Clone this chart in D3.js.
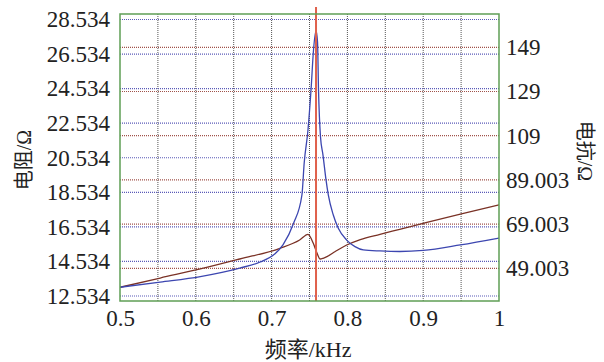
<!DOCTYPE html>
<html>
<head>
<meta charset="utf-8">
<script src="https://cdn.jsdelivr.net/npm/d3@7"></script>
<style>
  html, body { margin: 0; padding: 0; background: #fff; }
  svg { display: block; }
</style>
</head>
<body>
<svg id="chart" width="604" height="362"></svg>
<script>
// Impedance around resonance: resistance (left axis, blue) and reactance (right axis, brown).

const freqR = [0.500, 0.553, 0.606, 0.658, 0.685, 0.704, 0.715, 0.729, 0.740, 0.743, 0.748, 0.752,
  0.7553, 0.7586, 0.7606, 0.7619, 0.7645, 0.7678, 0.7718, 0.7748, 0.7814, 0.788, 0.799, 0.810,
  0.821, 0.843, 0.869, 0.900, 0.949, 1.000];
const resistance = [13.04, 13.34, 13.66, 14.15, 14.50, 14.96, 15.49, 16.74, 18.38, 20.23, 22.14, 24.45,
  26.77, 27.89, 27.23, 24.45, 21.75, 20.69, 19.25, 18.38, 17.22, 16.45, 15.77, 15.39,
  15.20, 15.14, 15.11, 15.17, 15.49, 15.89];

const freqX = [0.500, 0.553, 0.606, 0.658, 0.711, 0.737, 0.748, 0.755, 0.760, 0.764, 0.768, 0.773,
  0.784, 0.799, 0.817, 0.843, 0.869, 0.900, 0.949, 1.000];
const reactance = [40.41, 44.61, 48.69, 53.21, 58.05, 61.81, 64.39, 60.32, 55.79, 53.21, 53.53, 54.25,
  56.60, 59.55, 62.03, 64.39, 66.65, 69.37, 73.57, 77.65];

const resonance = 0.7586;

const xTicks = [0.5, 0.6, 0.7, 0.8, 0.9, 1];
const xGrid = [0.55, 0.6, 0.65, 0.7, 0.75, 0.8, 0.85, 0.9, 0.95];
const leftTicks = [12.534, 14.534, 16.534, 18.534, 20.534, 22.534, 24.534, 26.534, 28.534];
const rightTicks = [49.003, 69.003, 89.003, 109.003, 129.003, 149.003];
const rightLabels = ["49.003", "69.003", "89.003", "109", "129", "149"];

const L = 120, R = 499, T = 14, B = 301;
const FAM = "Liberation Serif, DejaVu Serif, Noto Sans CJK SC";

const svg = d3.select("#chart");

const x = d3.scaleLinear().domain([0.5, 1]).range([L, R]);
const yL = d3.scaleLinear().domain([12.245, 28.852]).range([B, T]);
const yR = d3.scaleLinear().domain([34.207, 164.07]).range([B, T]);

// grid
const grid = svg.append("g");
grid.selectAll("line.vg").data(xGrid).enter().append("line")
  .attr("x1", (d) => x(d)).attr("x2", (d) => x(d)).attr("y1", T).attr("y2", B)
  .attr("stroke", "#555").attr("stroke-width", 1).attr("stroke-dasharray", "1,1");
grid.selectAll("line.rg").data(rightTicks).enter().append("line")
  .attr("x1", L).attr("x2", R).attr("y1", (d) => yR(d)).attr("y2", (d) => yR(d))
  .attr("stroke", "#a0524a").attr("stroke-width", 1.2).attr("stroke-dasharray", "1,1");
grid.selectAll("line.bg").data(leftTicks).enter().append("line")
  .attr("x1", L).attr("x2", R).attr("y1", (d) => yL(d)).attr("y2", (d) => yL(d))
  .attr("stroke", "#5a5ab8").attr("stroke-width", 1.2).attr("stroke-dasharray", "1,1");

// curves
svg.append("path").datum(freqX.map((f, i) => [f, reactance[i]]))
  .attr("fill", "none").attr("stroke", "#7a3226").attr("stroke-width", 1.3)
  .attr("d", d3.line().x((d) => x(d[0])).y((d) => yR(d[1])).curve(d3.curveMonotoneX));
svg.append("path").datum(freqR.map((f, i) => [f, resistance[i]]))
  .attr("fill", "none").attr("stroke", "#3c46b0").attr("stroke-width", 1.3)
  .attr("d", d3.line().x((d) => x(d[0])).y((d) => yL(d[1])).curve(d3.curveMonotoneX));

// resonance marker
svg.append("line")
  .attr("x1", x(resonance)).attr("x2", x(resonance)).attr("y1", T - 7).attr("y2", B)
  .attr("stroke", "#e0614c").attr("stroke-width", 2);

// frame
svg.append("rect").attr("x", L).attr("y", T).attr("width", R - L).attr("height", B - T)
  .attr("fill", "none").attr("stroke", "#5f9e55").attr("stroke-width", 1.5);

// axes
const styleAxis = (s) => {
  s.attr("font-family", null).attr("font-size", null);
  s.select(".domain").remove();
  s.selectAll("text").attr("fill", "#222").style("font-family", FAM).style("font-size", "23px");
};
svg.append("g").attr("transform", `translate(0,${B})`)
  .call(d3.axisBottom(x).tickValues(xTicks).tickFormat(d3.format("")).tickSize(0).tickPadding(9))
  .call(styleAxis);
svg.append("g").attr("transform", `translate(${L},0)`)
  .call(d3.axisLeft(yL).tickValues(leftTicks).tickFormat(d3.format(".3f")).tickSize(0).tickPadding(10))
  .call(styleAxis);
svg.append("g").attr("transform", `translate(${R},0)`)
  .call(d3.axisRight(yR).tickValues(rightTicks).tickFormat((d, i) => rightLabels[i]).tickSize(0).tickPadding(7))
  .call(styleAxis);

// axis titles
const title = (t, transform, size) => svg.append("text").attr("transform", transform)
  .attr("text-anchor", "middle").style("font-family", FAM).style("font-size", `${size}px`)
  .attr("fill", "#222").text(t);
title("电阻/Ω", "translate(31,160) rotate(-90)", 20);
title("电抗/Ω", "translate(578,151) rotate(90)", 20);
title("频率/kHz", "translate(308,357)", 22);
</script>
</body>
</html>
